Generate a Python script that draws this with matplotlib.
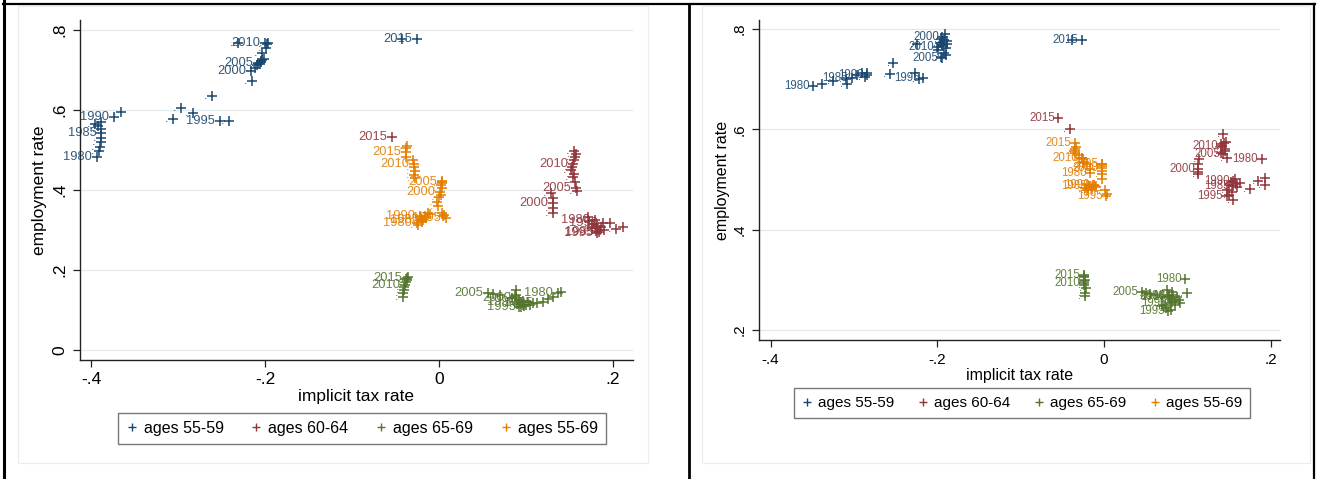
import matplotlib
matplotlib.use("Agg")
import matplotlib.pyplot as plt
from matplotlib.lines import Line2D
from matplotlib.patches import Rectangle
from matplotlib.ticker import FuncFormatter

plt.rcParams['font.family'] = ['Liberation Sans', 'DejaVu Sans']

years = list(range(1980, 2016))

# ---------------- Left panel ----------------
L_x_5559 = [-0.393, -0.391, -0.390, -0.389, -0.388, -0.388, -0.389, -0.392, -0.395, -0.389,
            -0.374, -0.365, -0.306, -0.296, -0.283, -0.252, -0.261, -0.241, -0.215, -0.212,
            -0.216, -0.206, -0.204, -0.209, -0.203, -0.208, -0.205, -0.201, -0.203, -0.199,
            -0.200, -0.197, -0.231, -0.198, -0.042, -0.025]
L_y_5559 = [0.483, 0.497, 0.508, 0.520, 0.530, 0.543, 0.553, 0.560, 0.566, 0.570,
            0.583, 0.596, 0.577, 0.604, 0.593, 0.573, 0.636, 0.573, 0.673, 0.705,
            0.697, 0.715, 0.720, 0.712, 0.725, 0.717, 0.722, 0.728, 0.742, 0.755,
            0.768, 0.767, 0.768, 0.764, 0.778, 0.778]

L_x_6064 = [0.179, 0.196, 0.211, 0.204, 0.190, 0.184, 0.176, 0.171, 0.178, 0.186,
            0.188, 0.182, 0.180, 0.185, 0.181, 0.182, 0.176, 0.173, 0.131, 0.131,
            0.131, 0.131, 0.129, 0.159, 0.156, 0.158, 0.154, 0.152, 0.155, 0.153,
            0.154, 0.156, 0.155, 0.157, 0.155, -0.054]
L_y_6064 = [0.325, 0.317, 0.308, 0.302, 0.300, 0.296, 0.305, 0.333, 0.315, 0.308,
            0.318, 0.310, 0.304, 0.300, 0.297, 0.292, 0.315, 0.322, 0.343, 0.356,
            0.368, 0.380, 0.392, 0.398, 0.421, 0.404, 0.433, 0.450, 0.440, 0.458,
            0.465, 0.483, 0.498, 0.490, 0.475, 0.533]

L_x_6569 = [0.137, 0.140, 0.131, 0.125, 0.119, 0.113, 0.108, 0.102, 0.097, 0.092,
            0.094, 0.090, 0.096, 0.098, 0.092, 0.0945, 0.100, 0.105, 0.089, 0.088,
            0.089, 0.087, 0.084, 0.070, 0.062, 0.056, -0.041, -0.041, -0.040, -0.040,
            -0.039, -0.038, -0.037, -0.038, -0.036, -0.037]
L_y_6569 = [0.143, 0.146, 0.133, 0.128, 0.121, 0.118, 0.117, 0.119, 0.122, 0.125,
            0.120, 0.115, 0.112, 0.110, 0.108, 0.108, 0.113, 0.112, 0.150, 0.138,
            0.129, 0.135, 0.130, 0.138, 0.140, 0.142, 0.133, 0.142, 0.150, 0.158,
            0.163, 0.171, 0.175, 0.178, 0.182, 0.180]

L_x_5569 = [-0.025, -0.022, -0.024, -0.020, -0.015, -0.018, -0.013, -0.016, -0.010, -0.020,
            -0.022, -0.019, 0.004, 0.006, 0.005, 0.0076, -0.001, -0.002, 0.000, 0.002,
            0.001, 0.003, 0.002, 0.003, 0.004, 0.003, -0.027, -0.029, -0.028, -0.029,
            -0.029, -0.030, -0.038, -0.038, -0.037, -0.038]
L_y_5569 = [0.318, 0.333, 0.312, 0.322, 0.330, 0.325, 0.343, 0.335, 0.340, 0.328,
            0.335, 0.320, 0.343, 0.337, 0.336, 0.329, 0.360, 0.371, 0.383, 0.388,
            0.396, 0.405, 0.412, 0.418, 0.422, 0.419, 0.429, 0.438, 0.448, 0.458,
            0.465, 0.475, 0.483, 0.505, 0.510, 0.496]

# ---------------- Right panel ----------------
R_x_5559 = [-0.349, -0.339, -0.325, -0.309, -0.310, -0.303, -0.296, -0.290, -0.285, -0.287,
            -0.284, -0.257, -0.253, -0.227, -0.222, -0.217, -0.225, -0.196, -0.192, -0.190,
            -0.194, -0.191, -0.196, -0.193, -0.190, -0.195, -0.199, -0.193, -0.189, -0.197,
            -0.200, -0.192, -0.188, -0.194, -0.039, -0.027]
R_y_5559 = [0.687, 0.690, 0.697, 0.690, 0.700, 0.703, 0.708, 0.712, 0.713, 0.705,
            0.709, 0.710, 0.733, 0.713, 0.700, 0.703, 0.770, 0.745, 0.752, 0.762,
            0.785, 0.790, 0.780, 0.775, 0.748, 0.743, 0.758, 0.766, 0.771, 0.773,
            0.765, 0.779, 0.776, 0.768, 0.779, 0.779]

R_x_6064 = [0.189, 0.193, 0.193, 0.185, 0.175, 0.155, 0.163, 0.158, 0.152, 0.160,
            0.155, 0.150, 0.148, 0.153, 0.150, 0.147, 0.155, 0.157, 0.113, 0.113,
            0.113, 0.113, 0.114, 0.140, 0.145, 0.143, 0.147, 0.145, 0.142, 0.140,
            0.141, 0.144, 0.143, 0.146, -0.0415, -0.055]
R_y_6064 = [0.541, 0.503, 0.490, 0.497, 0.481, 0.487, 0.493, 0.492, 0.495, 0.485,
            0.497, 0.490, 0.480, 0.475, 0.470, 0.467, 0.460, 0.500, 0.510, 0.515,
            0.520, 0.530, 0.540, 0.553, 0.557, 0.550, 0.543, 0.560, 0.565, 0.570,
            0.567, 0.572, 0.590, 0.575, 0.600, 0.623]

R_x_6569 = [0.097, 0.099, 0.091, 0.085, 0.080, 0.078, 0.075, 0.083, 0.088, 0.082,
            0.079, 0.072, 0.069, 0.074, 0.080, 0.077, 0.085, 0.090, 0.082, 0.078,
            0.077, 0.070, 0.062, 0.055, 0.050, 0.045, -0.023, -0.023, -0.022, -0.024,
            -0.024, -0.024, -0.023, -0.024, -0.024, -0.024]
R_y_6569 = [0.301, 0.273, 0.253, 0.258, 0.262, 0.265, 0.280, 0.270, 0.265, 0.255,
            0.253, 0.250, 0.247, 0.243, 0.240, 0.237, 0.250, 0.260, 0.275, 0.270,
            0.267, 0.265, 0.270, 0.272, 0.273, 0.275, 0.267, 0.273, 0.283, 0.290,
            0.293, 0.298, 0.300, 0.305, 0.308, 0.310]

R_x_5569 = [-0.017, -0.012, -0.018, -0.021, -0.015, -0.017, -0.011, -0.023, -0.020, -0.014,
            -0.013, -0.019, -0.010, 0.001, 0.003, 0.0025, -0.003, -0.003, -0.002, -0.003,
            -0.003, -0.002, -0.017, -0.020, -0.025, -0.003, -0.024, -0.025, -0.027, -0.030,
            -0.027, -0.035, -0.036, -0.035, -0.034, -0.035]
R_y_5569 = [0.512, 0.490, 0.488, 0.490, 0.485, 0.487, 0.488, 0.484, 0.480, 0.482,
            0.489, 0.484, 0.486, 0.480, 0.472, 0.467, 0.500, 0.510, 0.517, 0.527,
            0.523, 0.530, 0.520, 0.530, 0.533, 0.530, 0.535, 0.540, 0.543, 0.548,
            0.543, 0.553, 0.556, 0.560, 0.565, 0.572]

series_names = ["ages 55-59", "ages 60-64", "ages 65-69", "ages 55-69"]
colors = ["#1a476f", "#90353b", "#55752f", "#e37e00"]

x_ticks = [-0.4, -0.2, 0.0, 0.2]
L_y_ticks = [0.0, 0.2, 0.4, 0.6, 0.8]
R_y_ticks = [0.2, 0.4, 0.6, 0.8]


def stata_fmt(v, pos=None):
    if abs(v) < 1e-9:
        return "0"
    s = "%g" % round(v, 3)
    s = s.replace("0.", ".")
    return s


W, H = 1318, 479
fig = plt.figure(figsize=(W / 100, H / 100), dpi=100)
fig.patch.set_facecolor("white")


def px_rect(x0, y0, x1, y1):
    return [x0 / W, 1 - y1 / H, (x1 - x0) / W, (y1 - y0) / H]


# panel graph-region frames
for (x0, y0, x1, y1) in [(18, 6, 648, 463), (702, 6, 1310, 463)]:
    fig.add_artist(Rectangle((x0 / W, 1 - y1 / H), (x1 - x0) / W, (y1 - y0) / H,
                             transform=fig.transFigure, fill=False,
                             edgecolor="#ececec", lw=0.8))

# table borders
for (xa, ya, xb, yb, lw) in [(4, 0, 4, 479, 2.2), (3, 4, 1315, 4, 1.6),
                             (689, 4, 689, 479, 2.0), (1314, 4, 1314, 479, 1.6)]:
    fig.add_artist(Line2D([xa / W, xb / W], [1 - ya / H, 1 - yb / H],
                          transform=fig.transFigure, color="black", lw=lw))


def draw_panel(rect, data, xlim, ylim, yticks, fs_tick, fs_lab, fs_year, ms,
               xlab_pad, ylab_pad, legend_box, fs_leg, colsp, ygap):
    ax = fig.add_axes(rect)
    ax.set_facecolor("white")
    for yt in yticks:
        ax.axhline(yt, color="#e4ecef", lw=1.0, zorder=0)
    for (xs, ys), col, name in zip(data, colors, series_names):
        ax.plot(xs, ys, linestyle="none", marker="+", markersize=ms,
                markeredgewidth=1.1, color=col, label=name, zorder=3)
        for yr, xv, yv in zip(years, xs, ys):
            lab = str(yr) if yr % 5 == 0 else "."
            ax.annotate(lab, (xv, yv), xytext=(-ygap, 0), textcoords="offset points",
                        ha="right", va="center", fontsize=fs_year, color=col,
                        alpha=0.9, zorder=2)
    ax.set_xlim(*xlim)
    ax.set_ylim(*ylim)
    ax.set_xticks(x_ticks)
    ax.set_yticks(yticks)
    ax.xaxis.set_major_formatter(FuncFormatter(stata_fmt))
    ax.yaxis.set_major_formatter(FuncFormatter(stata_fmt))
    for s in ["top", "right"]:
        ax.spines[s].set_visible(False)
    for s in ["left", "bottom"]:
        ax.spines[s].set_color("#222222")
        ax.spines[s].set_linewidth(1.0)
    ax.tick_params(axis="both", direction="out", length=5, width=0.9,
                   color="#222222", labelsize=fs_tick, pad=4)
    for t in ax.get_yticklabels():
        t.set_rotation(90)
        t.set_va("center")
    ax.set_xlabel("implicit tax rate", fontsize=fs_lab, labelpad=xlab_pad)
    ax.set_ylabel("employment rate", fontsize=fs_lab, labelpad=ylab_pad)
    handles = [Line2D([], [], linestyle="none", marker="+", markersize=6,
                      markeredgewidth=1.0, color=c) for c in colors]
    leg = fig.legend(handles, series_names, loc="center",
                     bbox_to_anchor=legend_box, bbox_transform=fig.transFigure,
                     ncol=4, fontsize=fs_leg, frameon=True, fancybox=False,
                     handlelength=0.7, handletextpad=0.4, columnspacing=colsp,
                     borderpad=0.5, edgecolor="#555555")
    leg.get_frame().set_linewidth(1.0)
    return ax


draw_panel(px_rect(80, 20, 633, 360),
           [(L_x_5559, L_y_5559), (L_x_6064, L_y_6064), (L_x_6569, L_y_6569), (L_x_5569, L_y_5569)],
           (-0.4126, 0.223), (-0.025, 0.825), L_y_ticks,
           12.5, 12.5, 9.3, 7, 1, 4,
           (362 / W, 1 - 428.5 / H, 0, 0), 11.5, 1.7, 3.5)

draw_panel(px_rect(759, 20, 1280, 340),
           [(R_x_5559, R_y_5559), (R_x_6064, R_y_6064), (R_x_6569, R_y_6569), (R_x_5569, R_y_5569)],
           (-0.414, 0.211), (0.18, 0.818), R_y_ticks,
           11, 11.5, 8.3, 6.5, 1, 2,
           (1022 / W, 1 - 403 / H, 0, 0), 11, 1.5, 2.5)

fig.savefig("out.png", dpi=100, facecolor="white")
